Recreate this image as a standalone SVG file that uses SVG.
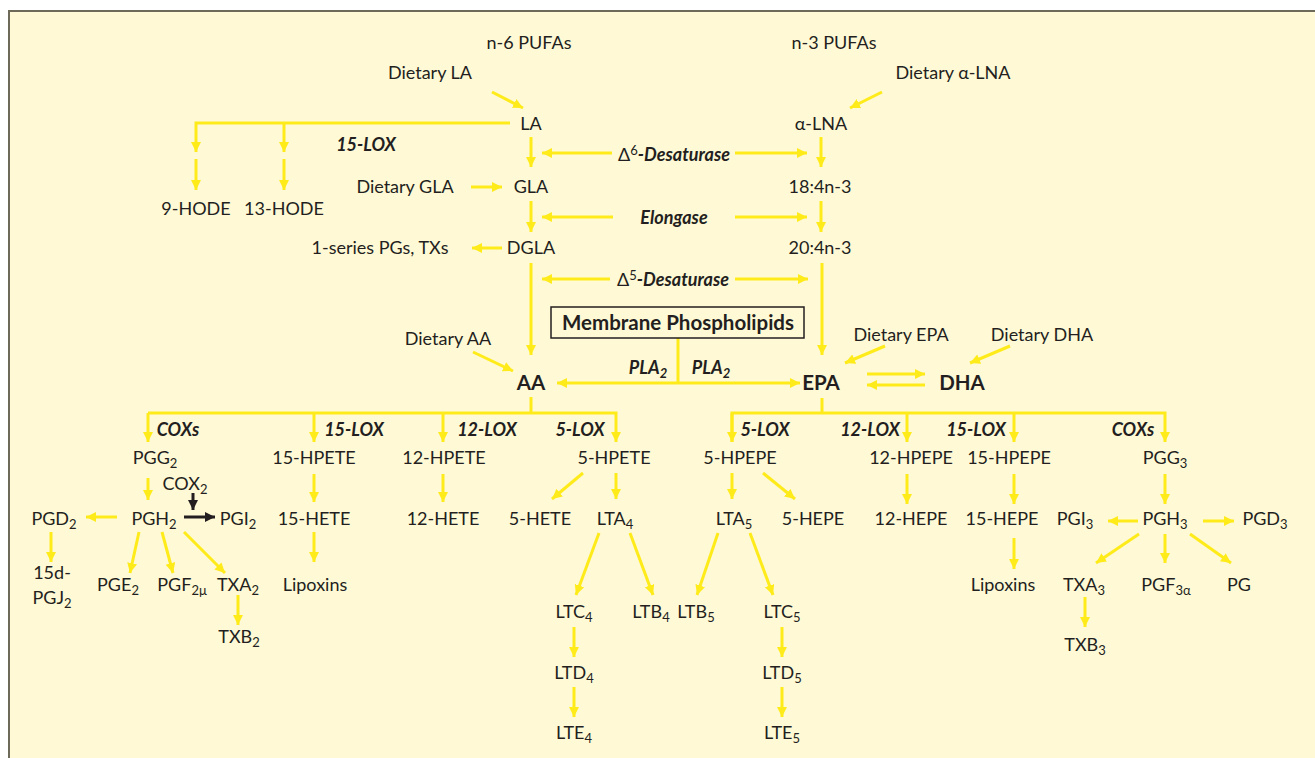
<svg xmlns="http://www.w3.org/2000/svg" width="1315" height="758" viewBox="0 0 1315 758">
<defs>
<style>
text{font-family:Lato,"Open Sans","Liberation Sans",sans-serif;font-size:18px;fill:#231f20;text-anchor:middle}
.b{font-weight:bold;font-size:20.5px}
.bi{font-weight:bold;font-style:italic}
.s{font-size:13px}
.y{stroke:#ffeb1a;stroke-width:3;fill:none}
.k{stroke:#231f20;stroke-width:3;fill:none}
</style>
<marker id="ay" markerUnits="userSpaceOnUse" markerWidth="11" markerHeight="11" refX="10" refY="5" orient="auto"><path d="M0,0 L10,5 L0,10 z" fill="#ffeb1a"/></marker>
<marker id="ak" markerUnits="userSpaceOnUse" markerWidth="11" markerHeight="11" refX="10" refY="5" orient="auto"><path d="M0,0 L10,5 L0,10 z" fill="#231f20"/></marker>
</defs>
<rect x="0" y="0" width="1315" height="758" fill="#ffffff"/>
<rect x="9" y="11" width="1320" height="760" fill="#fff9d6" stroke="#6e6a5a" stroke-width="2"/>

<g id="connectors">
<g class="y" marker-end="url(#ay)">
<line x1="492" y1="92" x2="523" y2="108"/>
<line x1="882" y1="92" x2="850" y2="108"/>
<line x1="531" y1="137" x2="531" y2="167"/>
<line x1="612" y1="153" x2="542" y2="153"/>
<line x1="735" y1="153" x2="807" y2="153"/>
<line x1="821" y1="137" x2="821" y2="167"/>
<line x1="471" y1="187" x2="502" y2="187"/>
<line x1="531" y1="201" x2="531" y2="232"/>
<line x1="613" y1="217" x2="542" y2="217"/>
<line x1="735" y1="217" x2="807" y2="217"/>
<line x1="821" y1="201" x2="821" y2="232"/>
<line x1="502" y1="248" x2="472" y2="248"/>
<line x1="531" y1="263" x2="531" y2="355"/>
<line x1="610" y1="279" x2="542" y2="279"/>
<line x1="735" y1="279" x2="808" y2="279"/>
<line x1="822" y1="263" x2="822" y2="355"/>
<line x1="196" y1="159" x2="196" y2="190"/>
<line x1="284" y1="159" x2="284" y2="190"/>
<line x1="473" y1="352" x2="513" y2="371"/>
<line x1="885" y1="346" x2="845" y2="363"/>
<line x1="1010" y1="346" x2="970" y2="363"/>
<line x1="867" y1="374" x2="925" y2="374"/>
<line x1="925" y1="385" x2="867" y2="385"/>
<line x1="678" y1="383" x2="557" y2="383"/>
<line x1="678" y1="383" x2="800" y2="383"/>
</g>
<path class="y" d="M510,123 H196 V152" marker-end="url(#ay)"/>
<path class="y" d="M284,123 V152" marker-end="url(#ay)"/>
<line class="y" x1="678" y1="338" x2="678" y2="383"/>

<path class="y" d="M531,397 V413"/>
<path class="y" d="M148,413 H616 V442" marker-end="url(#ay)"/>
<path class="y" d="M148,413 V442" marker-end="url(#ay)"/>
<path class="y" d="M314,413 V442" marker-end="url(#ay)"/>
<path class="y" d="M443,413 V442" marker-end="url(#ay)"/>
<path class="y" d="M822,398 V413"/>
<path class="y" d="M732,442 V413 H1165 V442" marker-end="url(#ay)"/>
<path class="y" d="M732,413 V442" marker-end="url(#ay)"/>
<path class="y" d="M907,413 V442" marker-end="url(#ay)"/>
<path class="y" d="M1014,413 V442" marker-end="url(#ay)"/>

<g class="y" marker-end="url(#ay)">
<line x1="148" y1="478" x2="148" y2="500"/>
<line x1="117" y1="517" x2="86" y2="517"/>
<line x1="51" y1="532" x2="51" y2="562"/>
<line x1="139" y1="532" x2="130" y2="573"/>
<line x1="162" y1="532" x2="173" y2="573"/>
<line x1="184" y1="532" x2="225" y2="573"/>
<line x1="238" y1="595" x2="238" y2="625"/>
<line x1="314" y1="474" x2="314" y2="502"/>
<line x1="314" y1="532" x2="314" y2="562"/>
<line x1="443" y1="474" x2="443" y2="502"/>
<line x1="583" y1="473" x2="552" y2="499"/>
<line x1="616" y1="473" x2="616" y2="499"/>
<line x1="599" y1="533" x2="576" y2="595"/>
<line x1="630" y1="533" x2="653" y2="595"/>
<line x1="574" y1="627" x2="574" y2="657"/>
<line x1="574" y1="687" x2="574" y2="717"/>
<line x1="732" y1="473" x2="732" y2="499"/>
<line x1="763" y1="473" x2="795" y2="499"/>
<line x1="718" y1="533" x2="697" y2="595"/>
<line x1="750" y1="533" x2="773" y2="595"/>
<line x1="782" y1="627" x2="782" y2="657"/>
<line x1="782" y1="687" x2="782" y2="717"/>
<line x1="907" y1="474" x2="907" y2="504"/>
<line x1="1014" y1="474" x2="1014" y2="504"/>
<line x1="1014" y1="538" x2="1014" y2="569"/>
<line x1="1165" y1="474" x2="1165" y2="504"/>
<line x1="1138" y1="521" x2="1108" y2="521"/>
<line x1="1203" y1="521" x2="1234" y2="521"/>
<line x1="1139" y1="534" x2="1096" y2="563"/>
<line x1="1165" y1="534" x2="1165" y2="563"/>
<line x1="1190" y1="534" x2="1231" y2="563"/>
<line x1="1085" y1="597" x2="1085" y2="627"/>
</g>
<g class="k" marker-end="url(#ak)">
<line x1="193" y1="493" x2="193" y2="510"/>
<line x1="184" y1="517" x2="215" y2="517"/>
</g>
</g>

<g id="n-top">
<text x="529" y="49">n-6 PUFAs</text>
<text x="834" y="49">n-3 PUFAs</text>
<text x="430" y="79">Dietary LA</text>
<text x="953" y="79">Dietary α-LNA</text>
</g>
<g id="n-LA"><text x="531" y="130">LA</text></g>
<g id="n-aLNA"><text x="821" y="130">α-LNA</text></g>
<g id="n-15lox-top"><text class="bi" x="366" y="151">15-LOX</text></g>
<g id="n-9hode"><text x="196" y="215">9-HODE</text></g>
<g id="n-13hode"><text x="284" y="215">13-HODE</text></g>
<g id="n-d6"><text x="674" y="161">Δ<tspan class="s" dy="-6">6</tspan><tspan class="bi" dy="6">-Desaturase</tspan></text></g>
<g id="n-dietgla"><text x="405" y="193">Dietary GLA</text></g>
<g id="n-GLA"><text x="531" y="193">GLA</text></g>
<g id="n-184"><text x="820" y="193">18:4n-3</text></g>
<g id="n-elong"><text class="bi" x="674" y="224">Elongase</text></g>
<g id="n-1series"><text x="380" y="254">1-series PGs, TXs</text></g>
<g id="n-DGLA"><text x="531" y="254">DGLA</text></g>
<g id="n-204"><text x="820" y="254">20:4n-3</text></g>
<g id="n-d5"><text x="673" y="286">Δ<tspan class="s" dy="-6">5</tspan><tspan class="bi" dy="6">-Desaturase</tspan></text></g>
<g id="n-membrane">
<rect x="551" y="307" width="253" height="31" fill="#fff9d6" stroke="#231f20" stroke-width="1.5"/>
<text class="b" x="678" y="330">Membrane Phospholipids</text>
</g>
<g id="n-dietaa"><text x="448" y="345">Dietary AA</text></g>
<g id="n-AA"><text class="b" x="531" y="390">AA</text></g>
<g id="n-pla2"><text class="bi" x="648" y="374">PLA<tspan class="s" dy="4">2</tspan></text><text class="bi" x="711" y="374">PLA<tspan class="s" dy="4">2</tspan></text></g>
<g id="n-EPA"><text class="b" x="821" y="390">EPA</text></g>
<g id="n-DHA"><text class="b" x="962" y="390">DHA</text></g>
<g id="n-dietepa"><text x="901" y="341">Dietary EPA</text></g>
<g id="n-dietdha"><text x="1042" y="341">Dietary DHA</text></g>

<g id="n-enzymes">
<text class="bi" x="178" y="436">COXs</text>
<text class="bi" x="354" y="436">15-LOX</text>
<text class="bi" x="487" y="436">12-LOX</text>
<text class="bi" x="580" y="436">5-LOX</text>
<text class="bi" x="765" y="436">5-LOX</text>
<text class="bi" x="870" y="436">12-LOX</text>
<text class="bi" x="976" y="436">15-LOX</text>
<text class="bi" x="1133" y="436">COXs</text>
</g>

<g id="n-PGG2"><text x="155" y="464">PGG<tspan class="s" dy="4">2</tspan></text></g>
<g id="n-15HPETE"><text x="314" y="464">15-HPETE</text></g>
<g id="n-12HPETE"><text x="444" y="464">12-HPETE</text></g>
<g id="n-5HPETE"><text x="614" y="464">5-HPETE</text></g>
<g id="n-5HPEPE"><text x="740" y="464">5-HPEPE</text></g>
<g id="n-12HPEPE"><text x="911" y="464">12-HPEPE</text></g>
<g id="n-15HPEPE"><text x="1009" y="464">15-HPEPE</text></g>
<g id="n-PGG3"><text x="1165" y="464">PGG<tspan class="s" dy="4">3</tspan></text></g>

<g id="n-COX2"><text x="185" y="490">COX<tspan class="s" dy="4">2</tspan></text></g>
<g id="n-PGD2"><text x="54" y="525">PGD<tspan class="s" dy="4">2</tspan></text></g>
<g id="n-PGH2"><text x="154" y="525">PGH<tspan class="s" dy="4">2</tspan></text></g>
<g id="n-PGI2"><text x="238" y="525">PGI<tspan class="s" dy="4">2</tspan></text></g>
<g id="n-15HETE"><text x="314" y="525">15-HETE</text></g>
<g id="n-12HETE"><text x="443" y="525">12-HETE</text></g>
<g id="n-5HETE"><text x="540" y="525">5-HETE</text></g>
<g id="n-LTA4"><text x="615" y="525">LTA<tspan class="s" dy="4">4</tspan></text></g>
<g id="n-LTA5"><text x="734" y="525">LTA<tspan class="s" dy="4">5</tspan></text></g>
<g id="n-5HEPE"><text x="813" y="525">5-HEPE</text></g>
<g id="n-12HEPE"><text x="911" y="525">12-HEPE</text></g>
<g id="n-15HEPE"><text x="1002" y="525">15-HEPE</text></g>
<g id="n-PGI3"><text x="1075" y="525">PGI<tspan class="s" dy="4">3</tspan></text></g>
<g id="n-PGH3"><text x="1165" y="525">PGH<tspan class="s" dy="4">3</tspan></text></g>
<g id="n-PGD3"><text x="1265" y="525">PGD<tspan class="s" dy="4">3</tspan></text></g>

<g id="n-15dPGJ2"><text x="52" y="579">15d-</text><text x="52" y="604">PGJ<tspan class="s" dy="4">2</tspan></text></g>
<g id="n-PGE2"><text x="118" y="591">PGE<tspan class="s" dy="4">2</tspan></text></g>
<g id="n-PGF2"><text x="182" y="591">PGF<tspan class="s" dy="4">2μ</tspan></text></g>
<g id="n-TXA2"><text x="238" y="591">TXA<tspan class="s" dy="4">2</tspan></text></g>
<g id="n-lipox1"><text x="315" y="591">Lipoxins</text></g>
<g id="n-TXB2"><text x="239" y="643">TXB<tspan class="s" dy="4">2</tspan></text></g>
<g id="n-lipox2"><text x="1003" y="591">Lipoxins</text></g>
<g id="n-TXA3"><text x="1084" y="591">TXA<tspan class="s" dy="4">3</tspan></text></g>
<g id="n-PGF3"><text x="1166" y="591">PGF<tspan class="s" dy="4">3α</tspan></text></g>
<g id="n-PG"><text x="1239" y="591">PG</text></g>
<g id="n-TXB3"><text x="1085" y="651">TXB<tspan class="s" dy="4">3</tspan></text></g>

<g id="n-LTC4"><text x="574" y="618">LTC<tspan class="s" dy="4">4</tspan></text></g>
<g id="n-LTB4"><text x="651" y="618">LTB<tspan class="s" dy="4">4</tspan></text></g>
<g id="n-LTB5"><text x="696" y="618">LTB<tspan class="s" dy="4">5</tspan></text></g>
<g id="n-LTC5"><text x="782" y="618">LTC<tspan class="s" dy="4">5</tspan></text></g>
<g id="n-LTD4"><text x="574" y="679">LTD<tspan class="s" dy="4">4</tspan></text></g>
<g id="n-LTD5"><text x="782" y="679">LTD<tspan class="s" dy="4">5</tspan></text></g>
<g id="n-LTE4"><text x="574" y="739">LTE<tspan class="s" dy="4">4</tspan></text></g>
<g id="n-LTE5"><text x="782" y="739">LTE<tspan class="s" dy="4">5</tspan></text></g>
</svg>
